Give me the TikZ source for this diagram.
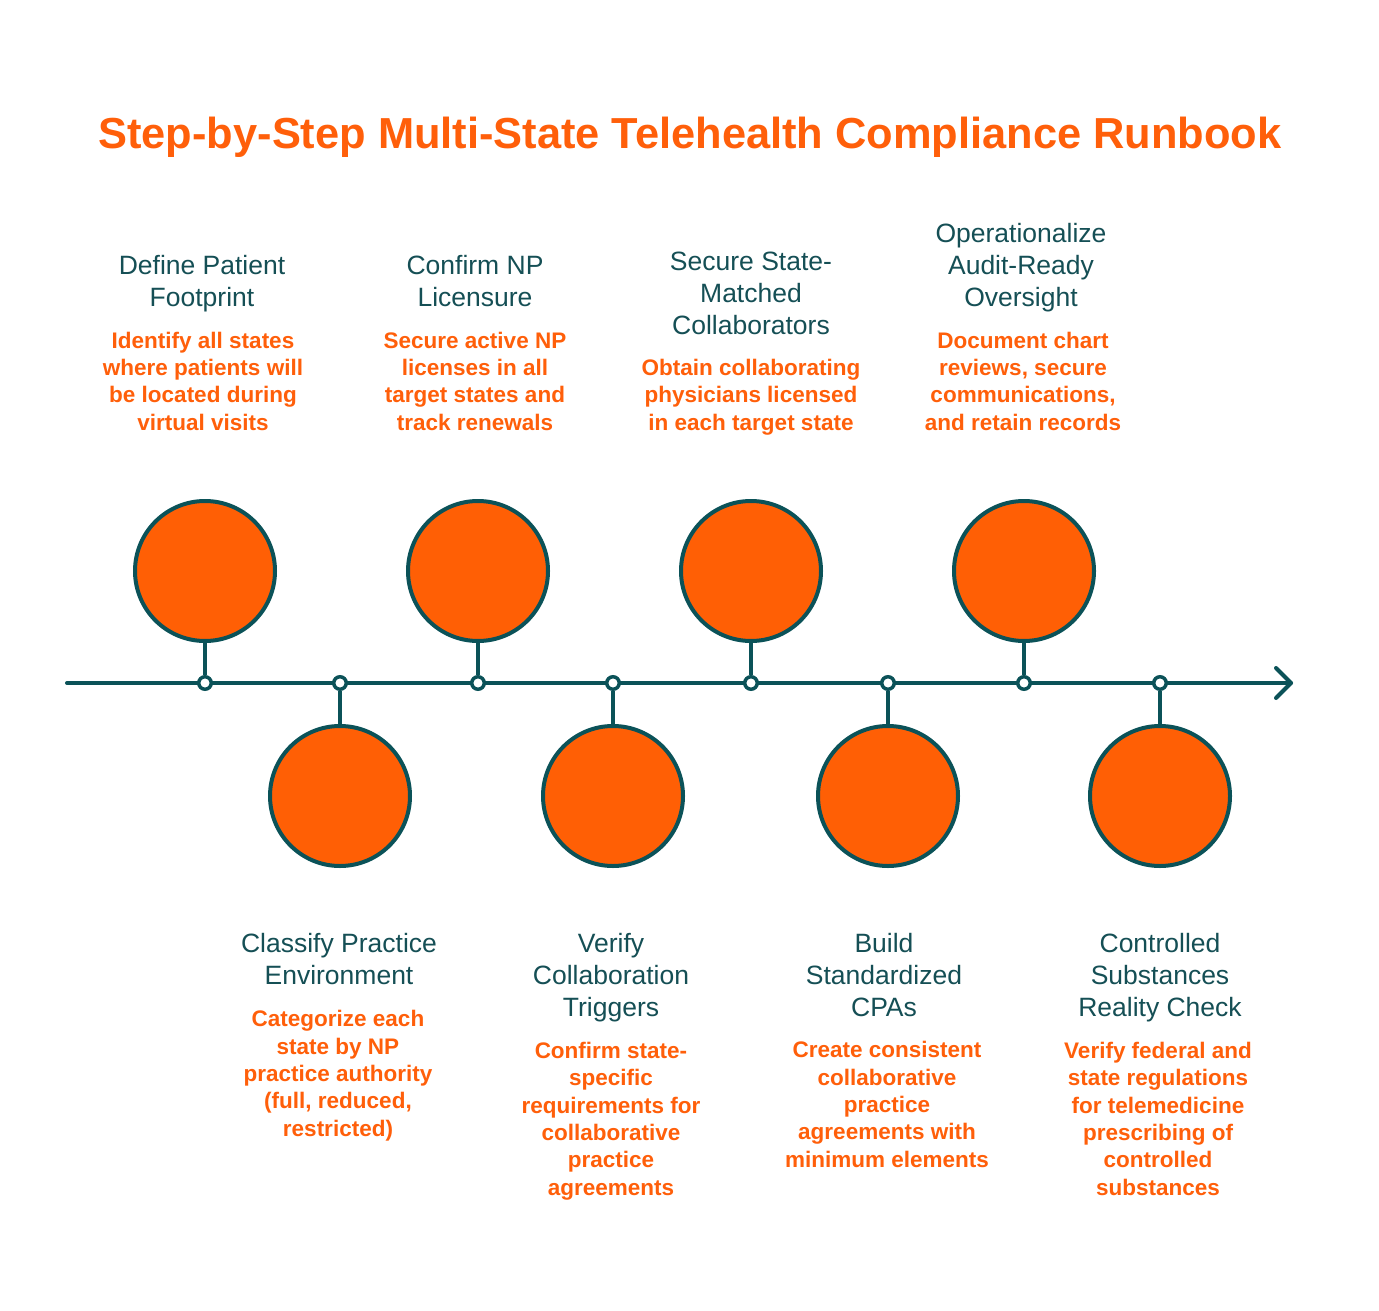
\documentclass[tikz,border=0pt]{standalone}
\usepackage{fontspec}
\setmainfont{Liberation Sans}
\definecolor{teal1}{HTML}{0B5258}
\definecolor{orng}{HTML}{FF5F05}
\definecolor{orngtxt}{HTML}{FF5F0A}
\definecolor{headtxt}{HTML}{154F55}
\begin{document}
\begin{tikzpicture}[x=1pt,y=-1pt,
 bigc/.style={circle, draw=teal1, fill=orng, line width=4pt, minimum size=140pt, inner sep=0pt},
 dot/.style={circle, draw=teal1, fill=white, line width=3.5pt, minimum size=12.5pt, inner sep=0pt},
 link/.style={draw=teal1, line width=4pt},
 head/.style={anchor=base, align=center, text=headtxt, inner sep=0pt, font=\fontsize{26.5}{32}\selectfont},
 desc/.style={anchor=base, align=center, text=orngtxt, inner sep=0pt, font=\bfseries\fontsize{22.5}{27.3}\selectfont},
]
\useasboundingbox[fill=white] (0,0) rectangle (1379,1311);

\node[anchor=base, inner sep=0pt, text=orngtxt, font=\bfseries\fontsize{43.4}{50}\selectfont] (title) at (690,149) {Step-by-Step Multi-State Telehealth Compliance Runbook};

% timeline
\coordinate (tl0) at (67,683);
\coordinate (tl1) at (1291,683);
\draw[link, line cap=round] (tl0) -- (tl1);
\draw[link, line cap=round, line join=round] ([shift={(-15,-15)}]tl1) -- (tl1) -- ([shift={(-15,15)}]tl1);

% circles
\node[bigc] (c1) at (205,571) {};
\node[bigc] (c2) at (340,796) {};
\node[bigc] (c3) at (478,571) {};
\node[bigc] (c4) at (613,796) {};
\node[bigc] (c5) at (751,571) {};
\node[bigc] (c6) at (888,796) {};
\node[bigc] (c7) at (1024,571) {};
\node[bigc] (c8) at (1160,796) {};

% dots
\node[dot] (d1) at (205,683) {};
\node[dot] (d2) at (340,683) {};
\node[dot] (d3) at (478,683) {};
\node[dot] (d4) at (613,683) {};
\node[dot] (d5) at (751,683) {};
\node[dot] (d6) at (888,683) {};
\node[dot] (d7) at (1024,683) {};
\node[dot] (d8) at (1160,683) {};

\foreach \i in {1,...,8} { \draw[link] (c\i) -- (d\i); }

% top labels (anchor = baseline of last line)
\node[head] (h1) at (202,306) {Define Patient\\Footprint};
\node[desc] (t1) at (203,430) {Identify all states\\where patients will\\be located during\\virtual visits};
\node[head] (h3) at (475,306) {Confirm NP\\Licensure};
\node[desc] (t3) at (475,430) {Secure active NP\\licenses in all\\target states and\\track renewals};
\node[head] (h5) at (751,334) {Secure State-\\Matched\\Collaborators};
\node[desc] (t5) at (751,430) {Obtain collaborating\\physicians licensed\\in each target state};
\node[head] (h7) at (1021,306) {Operationalize\\Audit-Ready\\Oversight};
\node[desc] (t7) at (1023,430) {Document chart\\reviews, secure\\communications,\\and retain records};

% bottom labels
\node[head] (h2) at (339,984) {Classify Practice\\Environment};
\node[desc] (t2) at (338,1136) {Categorize each\\state by NP\\practice authority\\(full, reduced,\\restricted)};
\node[head] (h4) at (611,1016) {Verify\\Collaboration\\Triggers};
\node[desc] (t4) at (611,1195) {Confirm state-\\specific\\requirements for\\collaborative\\practice\\agreements};
\node[head] (h6) at (884,1016) {Build\\Standardized\\CPAs};
\node[desc] (t6) at (887,1167) {Create consistent\\collaborative\\practice\\agreements with\\minimum elements};
\node[head] (h8) at (1160,1016) {Controlled\\Substances\\Reality Check};
\node[desc] (t8) at (1158,1195) {Verify federal and\\state regulations\\for telemedicine\\prescribing of\\controlled\\substances};
\end{tikzpicture}
\end{document}
